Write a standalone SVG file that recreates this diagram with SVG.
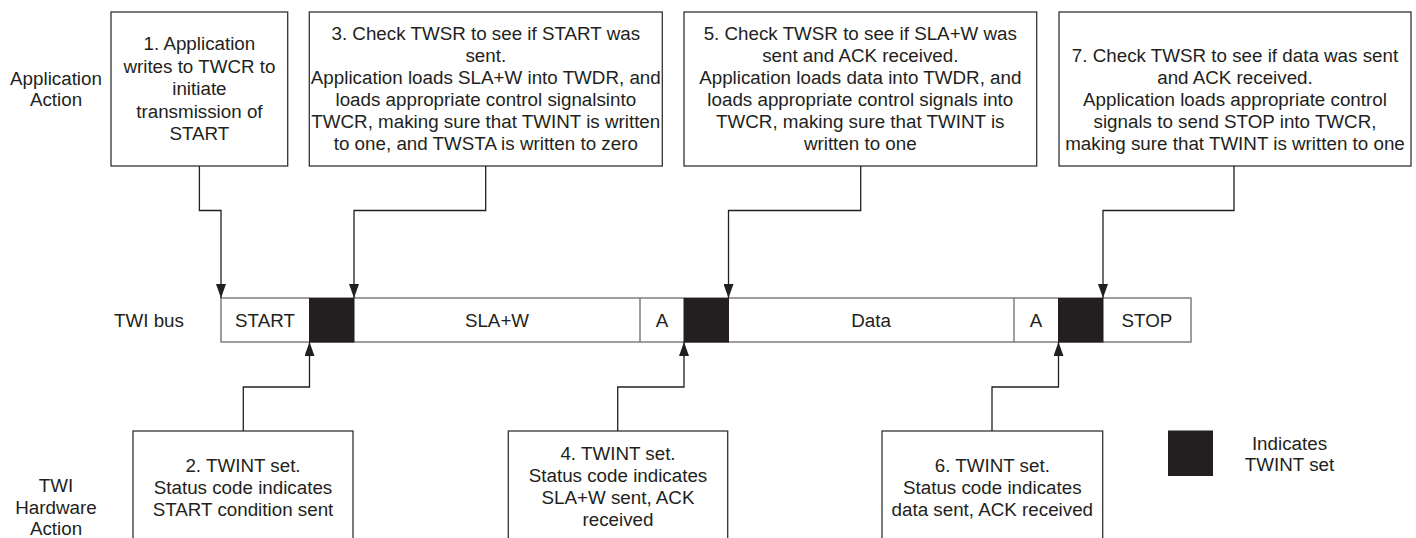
<svg xmlns="http://www.w3.org/2000/svg" width="1416" height="538" viewBox="0 0 1416 538">
<style>
text{font-family:"Liberation Sans",Arial,Helvetica,sans-serif;font-size:18.8px;fill:#231f20;text-anchor:middle}
.box{fill:#fff;stroke:#333;stroke-width:1.3}
.cell{fill:#fff;stroke:#6a6a6a;stroke-width:1.3}
.tw{fill:#231f20;stroke:#231f20;stroke-width:1}
.conn{fill:none;stroke:#231f20;stroke-width:1.3;marker-end:url(#arr)}
</style>
<defs>
<marker id="arr" markerUnits="userSpaceOnUse" markerWidth="14" markerHeight="10" refX="14" refY="5" orient="auto">
<path d="M0,0 L14,5 L0,10 z" fill="#231f20"/>
</marker>
</defs>
<rect width="1416" height="538" fill="#fff"/>

<g id="label-app">
<text x="56" y="84.5">Application</text>
<text x="56" y="106">Action</text>
</g>
<g id="label-bus"><text x="149" y="327">TWI bus</text></g>
<g id="label-hw">
<text x="56" y="492">TWI</text>
<text x="56" y="513.5">Hardware</text>
<text x="56" y="535">Action</text>
</g>

<g id="step1">
<rect class="box" x="111" y="12" width="176.7" height="154"/>
<text x="199.4" y="50">1. Application</text>
<text x="199.4" y="72.5">writes to TWCR to</text>
<text x="199.4" y="95">initiate</text>
<text x="199.4" y="117.5">transmission of</text>
<text x="199.4" y="140">START</text>
</g>
<g id="step3">
<rect class="box" x="309.3" y="12" width="353" height="154"/>
<text x="485.8" y="39.5">3. Check TWSR to see if START was</text>
<text x="485.8" y="61.5">sent.</text>
<text x="485.8" y="83.5">Application loads SLA+W into TWDR, and</text>
<text x="485.8" y="105.5">loads appropriate control signalsinto</text>
<text x="485.8" y="127.5">TWCR, making sure that TWINT is written</text>
<text x="485.8" y="149.5">to one, and TWSTA is written to zero</text>
</g>
<g id="step5">
<rect class="box" x="684" y="12" width="352.7" height="154"/>
<text x="860.3" y="39.5">5. Check TWSR to see if SLA+W was</text>
<text x="860.3" y="61.5">sent and ACK received.</text>
<text x="860.3" y="83.5">Application loads data into TWDR, and</text>
<text x="860.3" y="105.5">loads appropriate control signals into</text>
<text x="860.3" y="127.5">TWCR, making sure that TWINT is</text>
<text x="860.3" y="149.5">written to one</text>
</g>
<g id="step7">
<rect class="box" x="1059" y="12" width="352" height="154"/>
<text x="1235" y="61.5">7. Check TWSR to see if data was sent</text>
<text x="1235" y="83.5">and ACK received.</text>
<text x="1235" y="105.5">Application loads appropriate control</text>
<text x="1235" y="127.5">signals to send STOP into TWCR,</text>
<text x="1235" y="149.5">making sure that TWINT is written to one</text>
</g>

<g id="bus">
<rect class="cell" x="221" y="298" width="970" height="44"/>
<line class="cell" x1="640" y1="298" x2="640" y2="342"/>
<line class="cell" x1="1014" y1="298" x2="1014" y2="342"/>
<rect class="tw" x="309.5" y="298.5" width="44.5" height="43.5"/>
<rect class="tw" x="684" y="298.5" width="44.5" height="43.5"/>
<rect class="tw" x="1058.5" y="298.5" width="44.5" height="43.5"/>
<text x="265" y="327">START</text>
<text x="497" y="327">SLA+W</text>
<text x="662" y="327">A</text>
<text x="871" y="327">Data</text>
<text x="1036" y="327">A</text>
<text x="1147" y="327">STOP</text>
</g>

<g id="step2">
<rect class="box" x="133" y="431" width="220" height="130"/>
<text x="243" y="471.5">2. TWINT set.</text>
<text x="243" y="493.5">Status code indicates</text>
<text x="243" y="515.5">START condition sent</text>
</g>
<g id="step4">
<rect class="box" x="508.3" y="431" width="219.4" height="130"/>
<text x="618" y="460">4. TWINT set.</text>
<text x="618" y="482">Status code indicates</text>
<text x="618" y="504">SLA+W sent, ACK</text>
<text x="618" y="526">received</text>
</g>
<g id="step6">
<rect class="box" x="882" y="431" width="220.7" height="130"/>
<text x="992.3" y="471.5">6. TWINT set.</text>
<text x="992.3" y="493.5">Status code indicates</text>
<text x="992.3" y="515.5">data sent, ACK received</text>
</g>

<g id="legend">
<rect class="tw" x="1168.5" y="431" width="44" height="44.5"/>
<text x="1289.5" y="450">Indicates</text>
<text x="1289.5" y="471">TWINT set</text>
</g>

<g id="connectors">
<path class="conn" d="M199.4,166 V210.5 H221 V298"/>
<path class="conn" d="M485.7,166 V210.5 H354 V298"/>
<path class="conn" d="M860.7,166 V210.5 H728.5 V298"/>
<path class="conn" d="M1234,166 V210.5 H1103 V298"/>
<path class="conn" d="M243.3,431 V387 H309.5 V342"/>
<path class="conn" d="M617.7,431 V387 H684 V342"/>
<path class="conn" d="M992,431 V387 H1058.5 V342"/>
</g>
</svg>
